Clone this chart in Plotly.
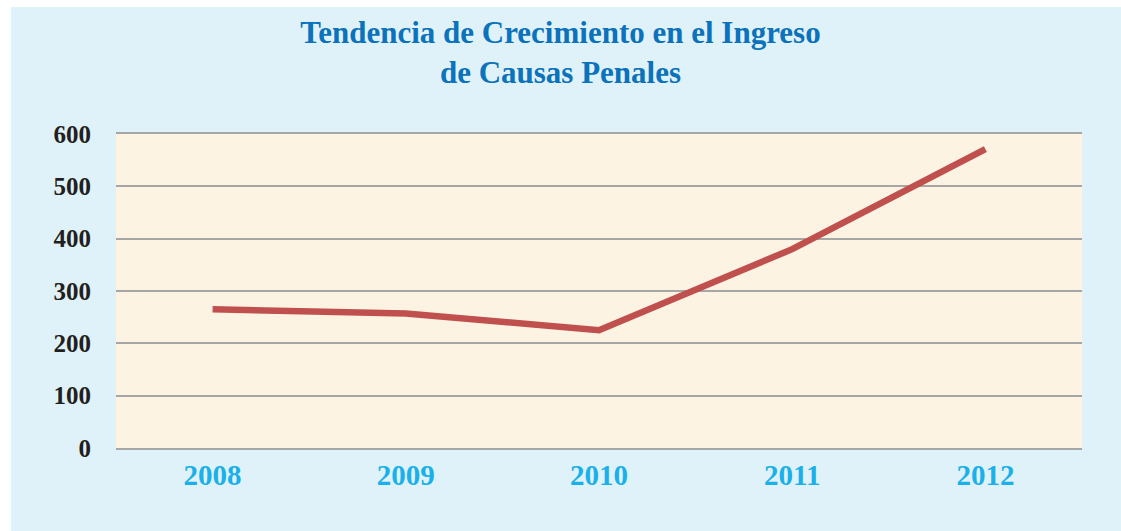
import plotly.graph_objects as go

years = ["2008", "2009", "2010", "2011", "2012"]
ingresos = [265, 257, 225, 380, 571]
y_ticks = [0, 100, 200, 300, 400, 500, 600]

W, H = 1121, 531
L, R, T, B = 116, 39, 134, 83
pw, ph = W - L - R, H - T - B

def px_x(px):
    return (px - L) / pw

def px_y(py):
    return (H - B - py) / ph

fig = go.Figure()
fig.add_trace(go.Scatter(
    x=years, y=ingresos, mode="lines",
    line=dict(color="#c0504d", width=6.5),
    hoverinfo="x+y",
))

shapes = [
    dict(type="rect", xref="paper", yref="paper",
         x0=px_x(0), x1=px_x(11), y0=px_y(H), y1=px_y(0),
         fillcolor="white", line=dict(width=0), layer="above"),
    dict(type="rect", xref="paper", yref="paper",
         x0=px_x(0), x1=px_x(W), y0=px_y(7), y1=px_y(0),
         fillcolor="white", line=dict(width=0), layer="above"),
]

fig.update_layout(
    width=W, height=H,
    margin=dict(l=L, r=R, t=T, b=B),
    paper_bgcolor="#dff2fa",
    plot_bgcolor="#fdf3e3",
    showlegend=False,
    shapes=shapes,
    title=dict(
        text="Tendencia de Crecimiento en el Ingreso<br>de Causas Penales",
        font=dict(family="Liberation Serif", size=31, color="#0b72bb", weight="bold"),
        x=0.5, xanchor="center", xref="container",
        y=1 - 43 / H, yanchor="top", yref="container",
    ),
    xaxis=dict(
        type="category",
        range=[-0.5, 4.5],
        showgrid=False,
        showline=True, mirror=True, linecolor="#a6a6a6", linewidth=2,
        ticks="", ticklabelstandoff=0,
        tickfont=dict(family="Liberation Serif", size=29, color="#1ab0ea", weight="bold"),
        fixedrange=True,
    ),
    yaxis=dict(
        range=[0, 600],
        tickvals=y_ticks,
        showgrid=True, gridcolor="#a6a6a6", gridwidth=2,
        zeroline=False, showline=False,
        ticks="", ticklabelstandoff=24,
        tickfont=dict(family="Liberation Serif", size=25, color="#231f20", weight="bold"),
        fixedrange=True,
    ),
)

fig.write_html(
    "out.html",
    config={"displayModeBar": False},
    post_script="document.body.style.margin='0px';document.body.style.overflow='hidden';",
)
